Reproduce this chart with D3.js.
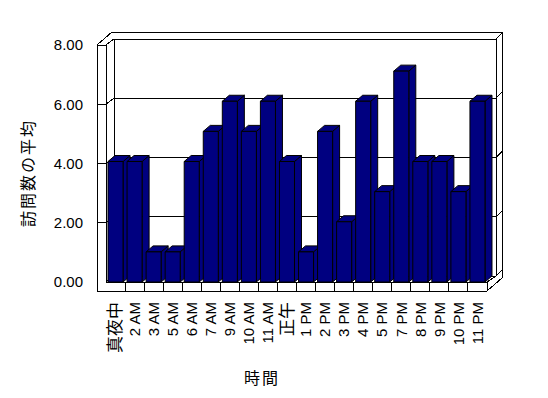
<!DOCTYPE html>
<html>
<head>
<meta charset="utf-8">
<script src="https://cdn.jsdelivr.net/npm/d3@7"></script>
<style>
  body { margin: 0; background: #fff; }
  svg { display: block; font-family: "Liberation Sans", "Noto Sans CJK JP", sans-serif; }
</style>
</head>
<body>
<div id="chart"></div>
<script>
var categories = ["真夜中", "2 AM", "3 AM", "5 AM", "6 AM", "7 AM", "9 AM", "10 AM", "11 AM", "正午",
  "1 PM", "2 PM", "3 PM", "4 PM", "5 PM", "7 PM", "8 PM", "9 PM", "10 PM", "11 PM"];
var visits = [4, 4, 1, 1, 4, 5, 6, 5, 6, 4, 1, 5, 2, 6, 3, 7, 4, 4, 3, 6];
var yTicks = [0, 2, 4, 6, 8];
var yTitle = "訪問数の平均";
var xTitle = "時間";

var width = 548, height = 398;

// frame of the 3d box (walls have thickness like the old excel charts)
var wallOut = 97, wallIn = 106, backIn = 114, floorRight = 487, backRightIn = 496, backRightOut = 502;
var floorTop = 282, floorBottom = 291, topOuter = 32;
var wdx = 8, wdy = -6;   // depth from front plane to back wall face
var bdx = 7, bdy = -6;   // depth of a bar

var x = d3.scaleBand().domain(categories).range([wallIn, floorRight]);
var yWall = d3.scaleLinear().domain([0, 8]).range([floorTop, 45]);
var yBar = d3.scaleLinear().domain([0, 8]).range([floorTop, 41]);

var svg = d3.select("#chart").append("svg")
    .attr("width", width)
    .attr("height", height);

var frame = svg.append("g")
    .attr("fill", "none")
    .attr("stroke", "#000")
    .attr("stroke-width", 1)
    .attr("shape-rendering", "crispEdges");

function seg(x1, y1, x2, y2) {
  frame.append("line")
    .attr("x1", x1).attr("y1", y1)
    .attr("x2", x2).attr("y2", y2);
}

var top8 = yWall(8);
// left wall
seg(wallOut, top8, wallOut, floorBottom);
seg(wallIn, top8, wallIn, floorTop);
seg(wallOut, top8, wallIn, top8);
seg(wallOut, top8, wallOut + 15, topOuter);
// back wall
seg(wallOut + 15, topOuter, backRightOut, topOuter);
seg(backIn, yWall(8) + wdy, backIn, yWall(0) + wdy);
seg(backRightIn, yWall(8) + wdy, backRightIn, yWall(0) + wdy);
seg(backRightOut, topOuter, backRightOut, floorBottom - 13);

// gridlines across left wall, back wall and its right edge
yTicks.forEach(function(v) {
  var yf = yWall(v), yb = yWall(v) + wdy;
  if (v > 0) seg(wallOut, yf, wallIn, yf);
  seg(wallIn, yf, backIn, yb);
  seg(backIn, yb, backRightIn, yb);
  seg(backRightIn, yb, backRightOut, yb - 6);
});

// floor slab
seg(wallIn, floorTop, floorRight, floorTop);
seg(wallOut, floorBottom, floorRight, floorBottom);
seg(floorRight, floorTop, floorRight, floorBottom);
seg(floorRight, floorTop, backRightIn, floorTop + wdy);
seg(floorRight, floorBottom, backRightOut, floorBottom - 13);
categories.slice(1).forEach(function(c) {
  seg(x(c), floorTop, x(c), floorBottom);
});

// bars
var barW = x.bandwidth() * 0.79;
var bars = svg.append("g")
    .attr("fill", "#000080")
    .attr("stroke", "#000")
    .attr("stroke-width", 1)
    .attr("stroke-linejoin", "round");

categories.forEach(function(c, i) {
  var x0 = x(c) + 2, x1 = x0 + barW;
  var yt = yBar(visits[i]), yb = yBar(0);
  var g = bars.append("g");
  g.append("path")
    .attr("d", "M" + x1 + "," + yt + "L" + (x1 + bdx) + "," + (yt + bdy) +
      "L" + (x1 + bdx) + "," + (yb + bdy) + "L" + x1 + "," + yb + "Z");
  g.append("path")
    .attr("d", "M" + x0 + "," + yt + "L" + (x0 + bdx) + "," + (yt + bdy) +
      "L" + (x1 + bdx) + "," + (yt + bdy) + "L" + x1 + "," + yt + "Z");
  g.append("rect")
    .attr("x", x0)
    .attr("y", yt)
    .attr("width", barW)
    .attr("height", yb - yt);
});

// value axis labels
var yAxis = svg.append("g")
    .attr("transform", "translate(86,0)")
    .call(d3.axisLeft(yWall).tickValues(yTicks).tickFormat(d3.format(".2f")).tickSize(0).tickPadding(3));
yAxis.select(".domain").remove();
yAxis.selectAll("text")
    .style("font-size", "15px")
    .style("font-family", "Liberation Sans, sans-serif")
    .attr("fill", "#000");

// category labels
var xAxis = svg.append("g")
    .attr("transform", "translate(0,296)")
    .call(d3.axisBottom(x).tickSize(0));
xAxis.select(".domain").remove();
xAxis.selectAll("text")
    .attr("transform", "rotate(-90)")
    .attr("x", -6)
    .attr("y", 0)
    .attr("dy", "0.35em")
    .style("text-anchor", "end")
    .style("font-size", function(d) { return /[^\x00-\x7F]/.test(d) ? "17px" : "15px"; })
    .style("font-family", "Liberation Sans, Noto Sans CJK JP, sans-serif")
    .attr("fill", "#000");

// titles
svg.append("text")
    .attr("transform", "translate(34,173) rotate(-90)")
    .attr("text-anchor", "middle")
    .style("font-size", "16px")
    .style("letter-spacing", "2px")
    .text(yTitle);

svg.append("text")
    .attr("x", 262)
    .attr("y", 384)
    .attr("text-anchor", "middle")
    .style("font-size", "16px")
    .style("letter-spacing", "2px")
    .text(xTitle);
</script>
</body>
</html>
